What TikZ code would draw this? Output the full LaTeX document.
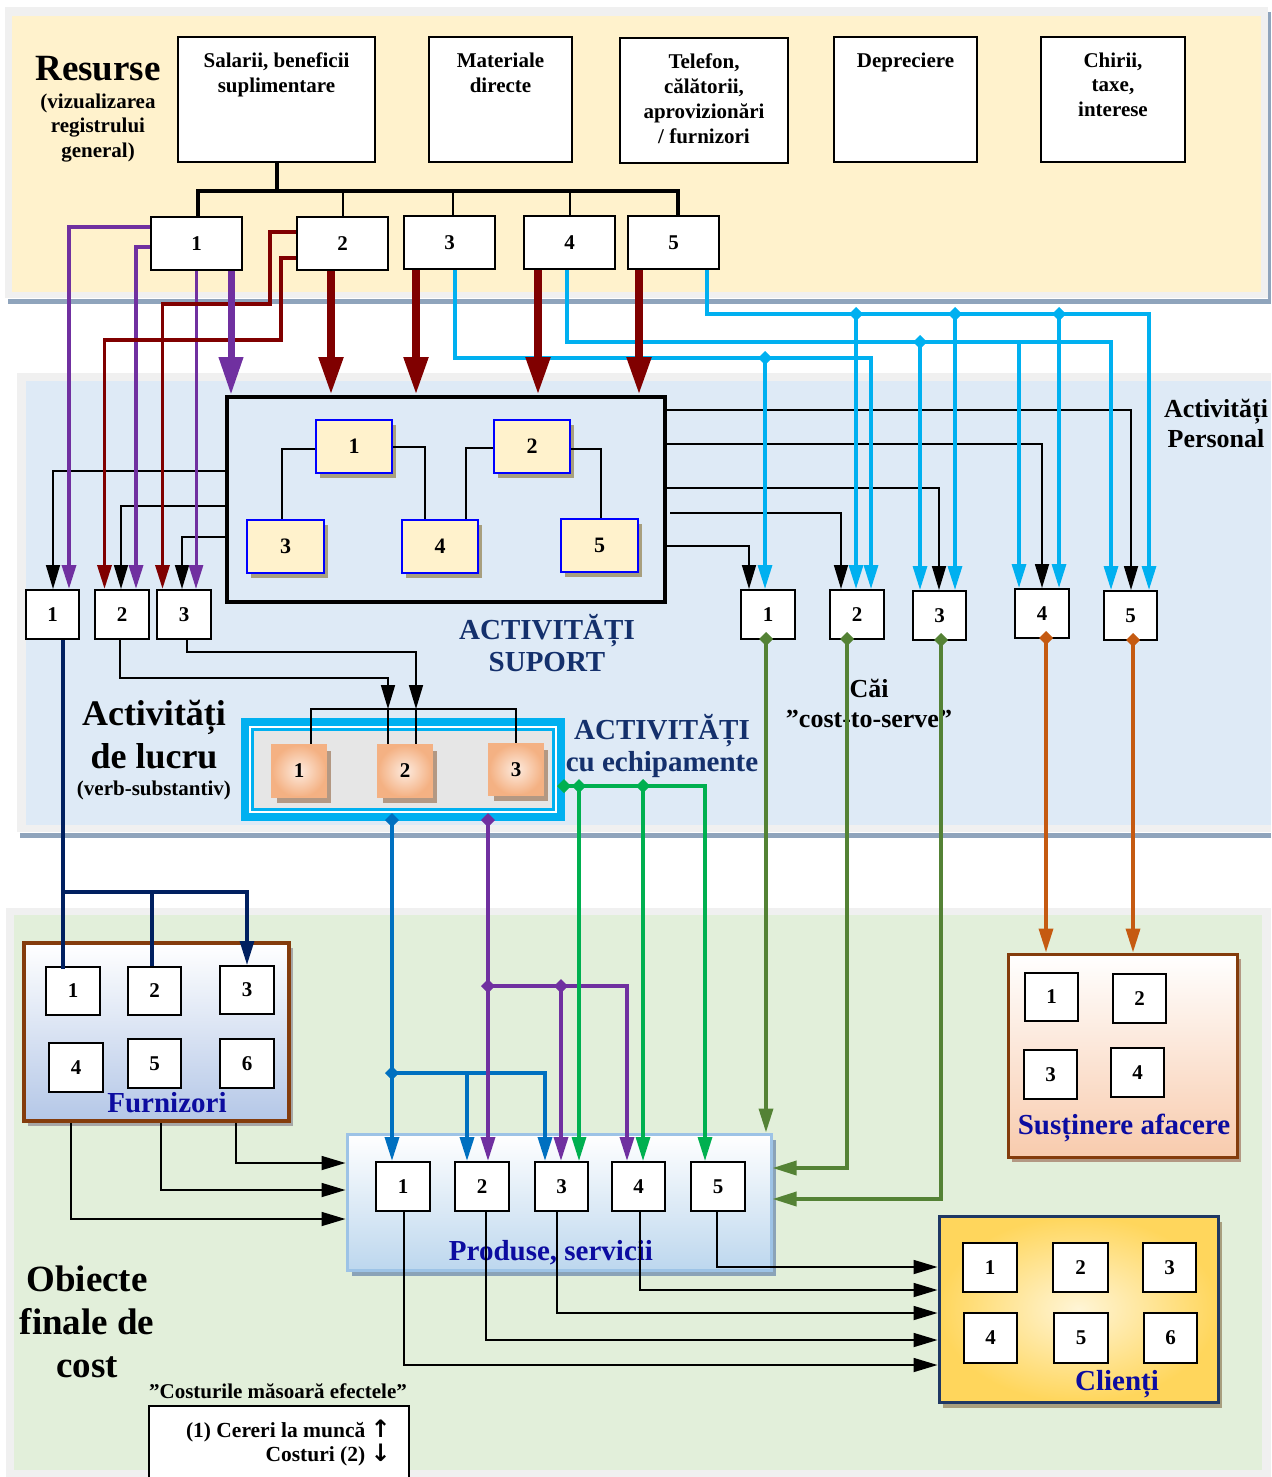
\documentclass[tikz,border=0pt]{standalone}
\usepackage{fontspec}
\setmainfont{Liberation Serif}
\newfontfamily\arrowfont{DejaVu Sans}
\usetikzlibrary{arrows.meta,shadows}

\definecolor{cream}{HTML}{FFF2CC}
\definecolor{lblue}{HTML}{DEEAF6}
\definecolor{lgreen}{HTML}{E2EFDA}
\definecolor{panelgray}{HTML}{F0F0F0}
\definecolor{shadowline}{HTML}{8FA4BC}
\definecolor{purp}{HTML}{7030A0}
\definecolor{dred}{HTML}{800000}
\definecolor{cyanl}{HTML}{00B0F0}
\definecolor{navyl}{HTML}{002060}
\definecolor{navyt}{HTML}{14306C}
\definecolor{olive}{HTML}{548235}
\definecolor{brgreen}{HTML}{00B050}
\definecolor{blue2}{HTML}{0070C0}
\definecolor{orng}{HTML}{C55A11}
\definecolor{brownb}{HTML}{843C0C}
\definecolor{labblue}{HTML}{0C0CA0}
\definecolor{tanshadow}{HTML}{A89F7E}
\definecolor{eqgray}{HTML}{E6E6E6}
\definecolor{eorange}{HTML}{F4B183}
\definecolor{elight}{HTML}{FDEBDF}
\definecolor{eshadow}{HTML}{B39883}
\definecolor{psborder}{HTML}{9DC3E6}
\definecolor{psbottom}{HTML}{BDD7EE}
\definecolor{psshadow}{HTML}{8AA3B8}
\definecolor{fubottom}{HTML}{B4C7E7}
\definecolor{subottom}{HTML}{F8CBAD}
\definecolor{clborder}{HTML}{1F3864}
\definecolor{clgold}{HTML}{FFD65C}
\definecolor{cllight}{HTML}{FFF5D6}

\newcommand\setfs[2]{\fontsize{#1}{#2}\selectfont}
\newcommand\fl{\rule{0pt}{1em}}
% box given by its corners: name, style, x1, y1, x2, y2, text
\newcommand\rb[7]{\node[#2,minimum width={(#5)-(#3)},minimum height={(#6)-(#4)}] (#1) at ({((#3)+(#5))/2},{((#4)+(#6))/2}) {#7};}
% junction diamond: colour, x, y
\newcommand\jd[3]{\fill[#1] (#2,#3) +(0,-7) -- +(7,0) -- +(0,7) -- +(-7,0) -- cycle;}
% bold arrow glyph for the note box
\newcommand\narr[1]{{\arrowfont\bfseries\fontsize{24}{24}\selectfont #1}}

\begin{document}
\begin{tikzpicture}[x=1pt,y=-1pt,
  arrS/.style={-{Triangle[width=14pt,length=24pt]}},
  arrB/.style={-{Triangle[width=23pt,length=38pt]}},
  num/.style={inner sep=0pt,font=\setfs{21}{24}\bfseries},
  wbox/.style={num,draw=black,line width=2pt,fill=white},
  rbox/.style={draw=black,line width=2pt,fill=white},
  rtxt/.style={anchor=north,align=center,inner sep=0pt,font=\setfs{21}{25}\bfseries},
  supbox/.style={draw=black,line width=4pt},
  sbox/.style={num,font=\setfs{22}{24}\bfseries,draw=blue,line width=2.6pt,fill=cream,
     general shadow={fill=tanshadow,shadow xshift=4pt,shadow yshift=-5pt}},
  ebox/.style={num,draw=eorange,line width=2.5pt,inner color=elight,outer color=eorange,
     general shadow={fill=eshadow,shadow xshift=5pt,shadow yshift=-6pt}},
  psbox/.style={draw=psborder,line width=3pt,top color=white,bottom color=psbottom,
     general shadow={fill=psshadow,shadow xshift=5pt,shadow yshift=-6pt}},
  fubox/.style={draw=brownb,line width=3.5pt,top color=white,bottom color=fubottom,
     general shadow={fill=gray!70,shadow xshift=4pt,shadow yshift=-5pt}},
  subox/.style={draw=brownb,line width=3pt,top color=white,bottom color=subottom,
     general shadow={fill=eshadow,shadow xshift=4pt,shadow yshift=-5pt}},
  clbox/.style={draw=clborder,line width=3pt,inner color=cllight,outer color=clgold,
     general shadow={fill=tanshadow,shadow xshift=4pt,shadow yshift=-6pt}},
  big/.style={anchor=north,align=center,inner sep=0pt,font=\setfs{37}{43}\bfseries},
  lab/.style={anchor=base,inner sep=0pt,font=\setfs{29}{32}\bfseries,text=labblue},
  cn/.style={draw=black,line width=1.7pt},
  cnA/.style={cn,arrS},
  bus/.style={draw=black,line width=4pt},
  pu/.style={draw=purp,line width=3.5pt},
  puA/.style={pu,arrS},
  puB/.style={draw=purp,line width=7pt,arrB},
  rd/.style={draw=dred,line width=3.5pt},
  rdA/.style={rd,arrS},
  rdB/.style={draw=dred,line width=8pt,arrB},
  cyA/.style={draw=cyanl,line width=3.2pt,arrS},
  nv/.style={draw=navyl,line width=3.2pt},
  nvA/.style={nv,arrS},
  olA/.style={draw=olive,line width=3.5pt,arrS},
  orA/.style={draw=orng,line width=3.5pt,arrS},
  grA/.style={draw=brgreen,line width=3.2pt,arrS},
  blA/.style={draw=blue2,line width=3.5pt,arrS},
]
\useasboundingbox (0,0) rectangle (1271,1477);

% ---------- background bands ----------
\fill[panelgray] (5,7) rectangle (1268,298);
\fill[cream] (12,16) rectangle (1261,292);
\draw[shadowline,line width=5pt] (8,301.5) -- (1271,301.5);
\draw[shadowline,line width=3pt] (1269.5,12) -- (1269.5,300);

\fill[panelgray] (17,373) rectangle (1271,832);
\fill[lblue] (26,381) rectangle (1271,825);
\draw[shadowline,line width=5pt] (20,835.5) -- (1271,835.5);

\fill[panelgray] (6,908) rectangle (1271,1477);
\fill[lgreen] (14,915) rectangle (1262,1470);

% ---------- resources ----------
\node[big,font=\setfs{37}{40}\bfseries] (res) at (98,43) {\fl Resurse};
\node[rtxt,font=\setfs{21}{24.5}\bfseries] (resub) at (98,87) {\fl(vizualizarea\\registrului\\general)};

\rb{R1}{rbox}{178}{37}{375}{162}{}
\rb{R2}{rbox}{429}{37}{572}{162}{}
\rb{R3}{rbox}{620}{38}{788}{163}{}
\rb{R4}{rbox}{834}{37}{977}{162}{}
\rb{R5}{rbox}{1041}{37}{1185}{162}{}
\node[rtxt] (R1t) at (276.5,46) {\fl Salarii, beneficii\\suplimentare};
\node[rtxt] (R2t) at (500.5,46) {\fl Materiale\\directe};
\node[rtxt] (R3t) at (704,47) {\fl Telefon,\\călătorii,\\aprovizionări\\/ furnizori};
\node[rtxt] (R4t) at (905.5,46) {\fl Depreciere};
\node[rtxt,font=\setfs{21}{24.5}\bfseries] (R5t) at (1113,46) {\fl Chirii,\\taxe,\\interese};

\rb{T1}{wbox}{151}{217}{242}{270}{1}
\rb{T2}{wbox}{297}{217}{388}{270}{2}
\rb{T3}{wbox}{404}{216}{495}{269}{3}
\rb{T4}{wbox}{524}{216}{615}{269}{4}
\rb{T5}{wbox}{628}{216}{719}{269}{5}

% general ledger bus
\draw[bus] (R1.south) -- (R1.south |- 0,191);
\draw[bus,line join=miter] (T1.north -| 198,0) -- (198,191) -- (678,191) -- (T5.north -| 678,0);
\draw[cn,line width=1.5pt] (343,191) -- (T2.north -| 343,0);
\draw[cn,line width=1.5pt] (453,191) -- (T3.north -| 453,0);
\draw[cn,line width=1.5pt] (570,191) -- (T4.north -| 570,0);

% ---------- activities ----------
\rb{L1}{wbox}{26}{590}{79}{639}{1}
\rb{L2}{wbox}{95}{590}{149}{639}{2}
\rb{L3}{wbox}{157}{590}{211}{639}{3}

\rb{P1}{wbox}{741}{590}{795}{639}{1}
\rb{P2}{wbox}{830}{590}{884}{639}{2}
\rb{P3}{wbox}{913}{591}{966}{640}{3}
\rb{P4}{wbox}{1015}{589}{1069}{638}{4}
\rb{P5}{wbox}{1104}{591}{1157}{640}{5}

\rb{S}{supbox}{227}{397}{665}{602}{}
\rb{S1}{sbox}{316}{420}{392}{473}{1}
\rb{S2}{sbox}{494}{420}{570}{473}{2}
\rb{S3}{sbox}{247}{520}{324}{573}{3}
\rb{S4}{sbox}{402}{520}{478}{573}{4}
\rb{S5}{sbox}{561}{519}{638}{572}{5}
\draw[cn] (S1.west |- 0,449) -| (S3.north -| 282,0);
\draw[cn] (S1.east |- 0,447) -| (S4.north -| 425,0);
\draw[cn] (S2.west |- 0,448) -| (S4.north -| 466,0);
\draw[cn] (S2.east |- 0,449) -| (S5.north -| 601,0);

\node[anchor=north,align=center,inner sep=0pt,font=\setfs{29}{32.5}\bfseries,text=navyt] (supt) at (547,610) {\fl ACTIVITĂȚI\\SUPORT};
\node[anchor=north,align=center,inner sep=0pt,font=\setfs{26}{30}\bfseries] (perst) at (1216,391) {\fl Activități\\Personal};
\node[anchor=north,align=center,inner sep=0pt,font=\setfs{36}{43}\bfseries] (lucru) at (154,689) {\fl Activități\\de lucru};
\node[anchor=base,inner sep=0pt,font=\setfs{21}{24}\bfseries] (verbs) at (154,795) {(verb-substantiv)};
\node[anchor=north,align=center,inner sep=0pt,font=\setfs{29}{32}\bfseries,text=navyt] (echt) at (662,710) {\fl ACTIVITĂȚI\\cu echipamente};
\node[anchor=north,align=center,inner sep=0pt,font=\setfs{26}{30}\bfseries] (cai) at (869,671) {\fl Căi\\”cost-to-serve”};

% equipment activities
\node[fill=cyanl,minimum width=324,minimum height=103,inner sep=0pt] (EQ) at (403,769.5) {};
\fill[white] (249,726) rectangle (557,813);
\fill[cyanl] (251,728) rectangle (555,811);
\fill[eqgray] (254,731) rectangle (552,808);
\rb{E1}{ebox}{272}{745}{326}{797}{1}
\rb{E2}{ebox}{378}{745}{432}{797}{2}
\rb{E3}{ebox}{489}{744}{543}{795}{3}

% ---------- cost objects ----------
\rb{FU}{fubox}{24}{943}{289}{1121}{}
\rb{F1}{wbox}{46}{967}{100}{1015}{1}
\rb{F2}{wbox}{128}{967}{181}{1015}{2}
\rb{F3}{wbox}{220}{966}{274}{1014}{3}
\rb{F4}{wbox}{49}{1043}{103}{1092}{4}
\rb{F5}{wbox}{128}{1039}{181}{1088}{5}
\rb{F6}{wbox}{220}{1039}{274}{1088}{6}
\node[lab] (fut) at (167,1112) {Furnizori};

\rb{PS}{psbox}{347}{1134}{771}{1270}{}
\rb{PS1}{wbox}{376}{1162}{430}{1211}{1}
\rb{PS2}{wbox}{455}{1162}{509}{1211}{2}
\rb{PS3}{wbox}{535}{1162}{588}{1211}{3}
\rb{PS4}{wbox}{612}{1162}{665}{1211}{4}
\rb{PS5}{wbox}{691}{1162}{745}{1211}{5}
\node[lab] (pst) at (551,1260) {Produse, servicii};

\rb{SU}{subox}{1008}{954}{1237}{1157}{}
\rb{Su1}{wbox}{1025}{973}{1078}{1021}{1}
\rb{Su2}{wbox}{1113}{974}{1166}{1023}{2}
\rb{Su3}{wbox}{1024}{1050}{1077}{1099}{3}
\rb{Su4}{wbox}{1111}{1048}{1164}{1097}{4}
\node[lab] (sut) at (1124,1134) {Susținere afacere};

\rb{CL}{clbox}{939}{1216}{1218}{1402}{}
\rb{C1}{wbox}{963}{1243}{1017}{1292}{1}
\rb{C2}{wbox}{1053}{1243}{1108}{1292}{2}
\rb{C3}{wbox}{1143}{1243}{1196}{1292}{3}
\rb{C4}{wbox}{964}{1313}{1017}{1363}{4}
\rb{C5}{wbox}{1054}{1313}{1108}{1363}{5}
\rb{C6}{wbox}{1144}{1313}{1197}{1363}{6}
\node[lab] (clt) at (1117,1390) {Clienți};

\node[big] (obt) at (87,1254) {\fl Obiecte\\finale de\\cost};

% note box
\node[anchor=base,inner sep=0pt,font=\setfs{21}{24}\bfseries] (lgt) at (278,1398) {”Costurile măsoară efectele”};
\rb{LG}{rbox}{149}{1406}{409}{1495}{}
\node[anchor=north east,align=right,inner sep=0pt,font=\setfs{21.5}{23.7}\bfseries] (lgx) at (391,1416) {\fl(1) Cereri la muncă \narr{↑}\\Costuri (2) \narr{↓}};

% ---------- connectors ----------
% support activities to work / staff activities
\draw[cnA] (S.west |- 0,471) -| (L1.north -| 53,0);
\draw[cnA] (S.west |- 0,506) -| (L2.north -| 121,0);
\draw[cnA] (S.west |- 0,537) -| (L3.north -| 182,0);
\draw[cnA] (S.east |- 0,410) -| (P5.north -| 1131,0);
\draw[cnA] (S.east |- 0,444) -| (P4.north -| 1042,0);
\draw[cnA] (S.east |- 0,488) -| (P3.north -| 939,0);
\coordinate (so2) at (670,513);
\draw[cnA] (so2) -| (P2.north -| 841,0);
\draw[cnA] (S.east |- 0,546) -| (P1.north -| 749,0);

% purple from resource 1
\draw[puA] (T1.west |- 0,227) -| (L1.north -| 69,0);
\draw[puA] (T1.west |- 0,247) -| (L2.north -| 136,0);
\draw[puA,line width=3pt] (T1.south -| 196,0) -- (L3.north -| 196,0);

% dark red from resource 2
\draw[rdA] (T2.west |- 0,232) -| (270,304) -| (L3.north -| 162.5,0);
\draw[rdA] (T2.west |- 0,258) -| (281,340) -| (L2.north -| 104.5,0);

% cyan from resources 3, 4, 5
\draw[cyA] (T3.south -| 455,0) |- (871,358) -- (P2.north -| 871,0);
\coordinate (c31) at (765,358);
\draw[cyA] (c31) -- (P1.north -| 765,0);
\draw[cyA] (T4.south -| 567,0) |- (1111,342) -- (P5.north -| 1111,0);
\coordinate (c41) at (920,342);
\coordinate (c42) at (1019,342);
\draw[cyA] (c41) -- (P3.north -| 920,0);
\draw[cyA] (c42) -- (P4.north -| 1019,0);
\draw[cyA] (T5.south -| 707,0) |- (1149,314) -- (P5.north -| 1149,0);
\coordinate (c51) at (856,314);
\coordinate (c52) at (955,314);
\coordinate (c53) at (1059,314);
\draw[cyA] (c51) -- (P2.north -| 856,0);
\draw[cyA] (c52) -- (P3.north -| 955,0);
\draw[cyA] (c53) -- (P4.north -| 1059,0);
\jd{cyanl}{765}{358}
\jd{cyanl}{920}{342}
\jd{cyanl}{856}{314}
\jd{cyanl}{955}{314}
\jd{cyanl}{1059}{314}

% heavy arrows into support activities
\draw[puB] (T1.south -| 231,0) -- (S.north -| 231,0);
\draw[rdB] (T2.south -| 331,0) -- (S.north -| 331,0);
\draw[rdB] (T3.south -| 416,0) -- (S.north -| 416,0);
\draw[rdB] (T4.south -| 538,0) -- (S.north -| 538,0);
\draw[rdB] (T5.south -| 639,0) -- (S.north -| 639,0);

% work activities to equipment activities
\coordinate (k2) at (388,709);
\coordinate (k3) at (416,709);
\draw[cnA] (L2.south -| 120,0) |- (388,678) -- (k2);
\draw[cnA] (L3.south -| 187,0) |- (416,652) -- (k3);
\draw[cn] (k2) -- (E2.north -| 388,0);
\draw[cn] (k3) -- (E2.north -| 416,0);
\draw[cn] (E1.north -| 311,0) |- (516,709) -- (E3.north -| 516,0);

% work activity 1 to suppliers
\draw[nv] (L1.south -| 63,0) -- (63,969);
\coordinate (n1) at (63,892);
\coordinate (n2) at (152,892);
\draw[nv] (n1) -| (F2.north -| 152,0);
\draw[nvA] (n2) -| (F3.north -| 247,0);

% equipment activities to products
\draw[blA] (EQ.south -| 392,0) -- (PS1.north -| 392,0);
\coordinate (b1) at (392,1073);
\coordinate (b2) at (467,1073);
\draw[blA] (b1) -| (PS3.north -| 545,0);
\draw[blA] (b2) -- (PS2.north -| 467,0);
\draw[blA,draw=purp] (EQ.south -| 488,0) -- (PS2.north -| 488,0);
\coordinate (q1) at (488,986);
\coordinate (q2) at (561,986);
\draw[blA,draw=purp] (q1) -| (PS4.north -| 627,0);
\draw[blA,draw=purp] (q2) -- (PS3.north -| 561,0);
\draw[grA] (EQ.east |- 0,786) -| (PS5.north -| 705,0);
\coordinate (g1) at (579,786);
\coordinate (g2) at (643,786);
\draw[grA] (g1) -- (PS3.north -| 579,0);
\draw[grA] (g2) -- (PS4.north -| 643,0);
\jd{blue2}{392}{820}
\jd{purp}{488}{820}
\jd{blue2}{392}{1073}
\jd{purp}{488}{986}
\jd{purp}{561}{986}
\jd{brgreen}{564}{786}
\jd{brgreen}{579}{786}
\jd{brgreen}{643}{786}

% cost-to-serve paths
\draw[olA] (P1.south -| 766,0) -- (PS.north -| 766,0);
\draw[olA] (P2.south -| 847,0) |- (PS.east |- 0,1168);
\draw[olA] (P3.south -| 941,0) |- (PS.east |- 0,1199);
\draw[orA] (P4.south -| 1046,0) -- (SU.north -| 1046,0);
\draw[orA] (P5.south -| 1133,0) -- (SU.north -| 1133,0);
\jd{olive}{766}{639}
\jd{olive}{847}{639}
\jd{olive}{941}{640}
\jd{orng}{1046}{638}
\jd{orng}{1133}{640}

% suppliers to products
\draw[cnA] (FU.south -| 71,0) |- (PS.west |- 0,1219);
\draw[cnA] (FU.south -| 161,0) |- (PS.west |- 0,1190);
\draw[cnA] (FU.south -| 236,0) |- (PS.west |- 0,1163);

% products to customers
\draw[cnA] (PS5.south -| 717,0) |- (CL.west |- 0,1267);
\draw[cnA] (PS4.south -| 640,0) |- (CL.west |- 0,1290);
\draw[cnA] (PS3.south -| 557,0) |- (CL.west |- 0,1313);
\draw[cnA] (PS2.south -| 486,0) |- (CL.west |- 0,1340);
\draw[cnA] (PS1.south -| 404,0) |- (CL.west |- 0,1365);
\end{tikzpicture}
\end{document}
